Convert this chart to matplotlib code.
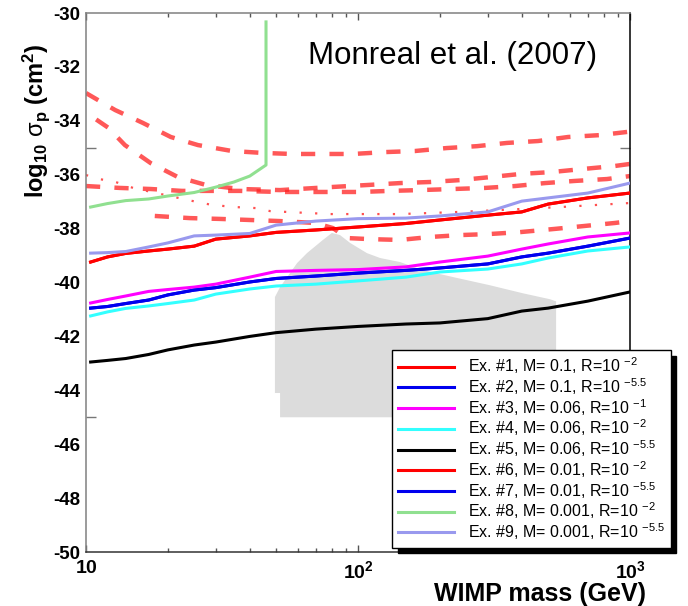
import numpy as np
import matplotlib
matplotlib.use('Agg')
import matplotlib.pyplot as plt
from matplotlib.ticker import FixedLocator, NullFormatter

plt.rcParams['font.family'] = 'Liberation Sans'
plt.rcParams['mathtext.fontset'] = 'custom'
plt.rcParams['mathtext.rm'] = 'Liberation Sans'
plt.rcParams['mathtext.it'] = 'Liberation Sans:italic'
plt.rcParams['mathtext.bf'] = 'Liberation Sans:bold'

# WIMP mass grid (GeV) for the projected sensitivity curves
mass = [10.4, 12, 14, 17, 20, 25, 30, 40, 50, 70, 100, 150, 200, 300, 400, 500, 700, 1000]

# log10 sigma_p (cm^2) for each exposure scenario
ex1 = [-39.24, -39.05, -38.92, -38.83, -38.76, -38.65, -38.39, -38.27, -38.14,
       -38.05, -37.94, -37.81, -37.68, -37.50, -37.38, -37.09, -36.86, -36.68]
ex2 = [-40.95, -40.89, -40.78, -40.65, -40.46, -40.28, -40.19, -39.98, -39.85,
       -39.76, -39.65, -39.55, -39.46, -39.31, -39.05, -38.91, -38.65, -38.35]
ex3 = [-40.76, -40.63, -40.50, -40.33, -40.26, -40.17, -40.06, -39.80, -39.59,
       -39.55, -39.52, -39.42, -39.24, -39.02, -38.76, -38.57, -38.31, -38.16]
ex4 = [-41.24, -41.09, -40.96, -40.87, -40.78, -40.65, -40.43, -40.24, -40.13,
       -40.06, -39.94, -39.80, -39.61, -39.50, -39.31, -39.09, -38.83, -38.68]
ex5 = [-42.95, -42.89, -42.82, -42.67, -42.50, -42.32, -42.21, -42.00, -41.86,
       -41.73, -41.63, -41.54, -41.50, -41.34, -41.06, -40.95, -40.69, -40.35]
ex6 = list(ex1)
ex7 = list(ex2)
ex9 = [-38.91, -38.89, -38.85, -38.68, -38.53, -38.27, -38.24, -38.18, -37.87,
       -37.72, -37.63, -37.61, -37.53, -37.38, -36.98, -36.86, -36.68, -36.31]

# Ex. #8 stops at the threshold mass and shoots up
ex8_mass = [10.4, 12, 14, 17, 20, 25, 30, 35, 40, 45.9, 45.9]
ex8 = [-37.20, -37.07, -36.96, -36.90, -36.79, -36.66, -36.46, -36.27, -36.05, -35.64, -30.33]

labels = ['Ex. #1, M= 0.1, R=10 $^{-2}$',
          'Ex. #2, M= 0.1, R=10 $^{-5.5}$',
          'Ex. #3, M= 0.06, R=10 $^{-1}$',
          'Ex. #4, M= 0.06, R=10 $^{-2}$',
          'Ex. #5, M= 0.06, R=10 $^{-5.5}$',
          'Ex. #6, M= 0.01, R=10 $^{-2}$',
          'Ex. #7, M= 0.01, R=10 $^{-5.5}$',
          'Ex. #8, M= 0.001, R=10 $^{-2}$',
          'Ex. #9, M= 0.001, R=10 $^{-5.5}$']
colors = ['#ff0000', '#0000ee', '#ff00ff', '#33ffff', '#000000',
          '#ff0000', '#0000ee', '#90e090', '#9999ee']

# existing experimental limits (red dashed)
lim_a_mass = [10, 12.8, 16.2, 20.5, 25.8, 34.4, 44.4, 57.2, 74.3, 95.9, 125.7,
              162, 212, 274, 353, 459, 592, 776, 1000]
lim_a = [-32.97, -33.60, -34.08, -34.60, -34.90, -35.12, -35.19, -35.23, -35.23,
         -35.23, -35.16, -35.12, -35.01, -34.94, -34.82, -34.75, -34.60, -34.53, -34.40]
lim_b_mass = [10.9, 12.05, 13.9, 17.3, 21.8, 27.6, 36.8, 51.7, 78.9, 108.9, 142.7,
              184, 237, 305, 397, 517, 666, 873, 1000]
lim_b = [-33.95, -34.25, -34.90, -35.57, -36.09, -36.38, -36.53, -36.57, -36.46,
         -36.38, -36.31, -36.27, -36.20, -36.09, -35.97, -35.90, -35.79, -35.68, -35.60]
lim_c_mass = [10, 13.3, 17.3, 22.5, 36.8, 51.7, 78.9, 101.7, 131, 169, 224, 293,
              378, 487, 628, 823, 1000]
lim_c = [-36.42, -36.49, -36.53, -36.60, -36.60, -36.64, -36.64, -36.64, -36.60,
         -36.57, -36.53, -36.49, -36.42, -36.31, -36.23, -36.16, -36.05]
lim_f_mass = [17.9, 24.1, 31.1, 40.1, 51.7, 69.5, 80.9, 91.1, 110.7, 142.7, 184,
              237, 305, 394, 530, 683, 881, 1000]
lim_f = [-37.53, -37.61, -37.64, -37.68, -37.72, -37.79, -37.98, -38.35, -38.39,
         -38.42, -38.31, -38.24, -38.20, -38.13, -38.01, -37.90, -37.79, -37.72]
# dotted limit
lim_e_mass = [10, 11.1, 12.5, 14.9, 19.5, 23.7, 29.0, 35.3, 42.5, 47.5, 78.9,
              142.7, 237, 333, 553, 1000]
lim_e = [-36.01, -36.16, -36.23, -36.49, -36.75, -36.94, -37.12, -37.20, -37.24,
         -37.35, -37.46, -37.46, -37.38, -37.31, -37.20, -37.05]

# allowed region (grey)
region_mass = [49.5, 49.5, 51.7, 59.7, 64.9, 74.3, 80.2, 85.9, 93.5, 107.9, 120.5,
               142.7, 173, 231, 305, 404, 508, 535, 535, 51.7, 51.7]
region_sig = [-44.1, -40.54, -40.17, -39.28, -38.91, -38.42, -38.16, -38.24, -38.53,
              -38.91, -39.09, -39.24, -39.54, -39.83, -40.10, -40.40, -40.62, -40.70,
              -45.0, -45.0, -44.1]

fig = plt.figure(figsize=(6.88, 6.06), dpi=100)
ax = fig.add_axes([0.125, 0.0891, 0.7907, 0.8894])
ax.set_xscale('log')

ax.fill(region_mass, region_sig, color='#dcdcdc', lw=0, zorder=1)

for m, s in [(lim_a_mass, lim_a), (lim_b_mass, lim_b), (lim_c_mass, lim_c), (lim_f_mass, lim_f)]:
    ax.plot(m, s, color='#ff2020', lw=3.2, dashes=(3.2, 3.2), alpha=0.75,
            dash_capstyle='butt', zorder=2)
ax.plot(lim_e_mass, lim_e, color='#ff5050', lw=1.6, dashes=(1, 6), zorder=2)

curves = [ex1, ex2, ex3, ex4, ex5, ex6, ex7, None, ex9]
for i, lab in enumerate(labels):
    if i == 7:
        ax.plot(ex8_mass, ex8, color=colors[i], lw=2.2, label=lab, zorder=3)
    else:
        ax.plot(mass, curves[i], color=colors[i], lw=2.2, label=lab, zorder=3)

ax.set_xlim(10, 1000)
ax.set_ylim(-50, -30)

yt = np.arange(-50, -29, 2)
ax.set_yticks(yt)
ax.set_yticklabels([str(v) for v in yt], fontweight='bold', fontsize=13.5)
ax.set_yticks([-45, -40, -35], minor=True)
ax.yaxis.set_minor_formatter(NullFormatter())
ax.tick_params(axis='y', which='major', length=0, pad=4)
ax.tick_params(axis='y', which='minor', length=7, width=1, color='#777777',
               direction='in', left=True, right=True)

ax.set_xticks([10, 100, 1000])
ax.set_xticklabels([r'$\mathbf{10}$', r'$\mathbf{10^{2}}$', r'$\mathbf{10^{3}}$'], fontsize=14)
ax.xaxis.set_minor_locator(FixedLocator([20, 30, 40, 50, 60, 70, 80, 90,
                                         200, 300, 400, 500, 600, 700, 800, 900]))
ax.xaxis.set_minor_formatter(NullFormatter())
ax.tick_params(axis='x', which='major', length=5, width=1, color='#555555',
               direction='in', top=True, bottom=True, pad=6)
ax.tick_params(axis='x', which='minor', length=3, width=1, color='#555555',
               direction='in', top=True, bottom=True)

ax.spines['left'].set_color('#808080')
ax.spines['top'].set_color('#808080')
ax.spines['bottom'].set_color('#333333')
ax.spines['right'].set_color('black')
for sp in ax.spines.values():
    sp.set_linewidth(1.1)

ax.set_ylabel(r'$\mathbf{log_{10}}\ \mathrm{\sigma}_{\mathbf{p}}\ \mathbf{(cm^{2})}$', fontsize=17)
ax.yaxis.set_label_coords(-0.062, 0.8)
fig.text(0.785, 0.02, 'WIMP mass (GeV)', fontsize=18, fontweight='bold', ha='center', va='center')
fig.text(0.6577, 0.9076, 'Monreal et al. (2007)', fontsize=22.5, ha='center', va='center')

leg = ax.legend(loc='upper left', bbox_to_anchor=(0.570, 0.4224), bbox_transform=fig.transFigure,
                borderaxespad=0, fontsize=11.5, handlelength=3.5, handletextpad=0.9,
                labelspacing=0.0, fancybox=False, framealpha=1, edgecolor='black',
                borderpad=0.35,
                shadow={'ox': 4, 'oy': -4, 'facecolor': 'black', 'edgecolor': 'black', 'alpha': 1})
leg.get_frame().set_linewidth(1.0)
leg.set_zorder(5)

fig.savefig('out.png', dpi=100)
